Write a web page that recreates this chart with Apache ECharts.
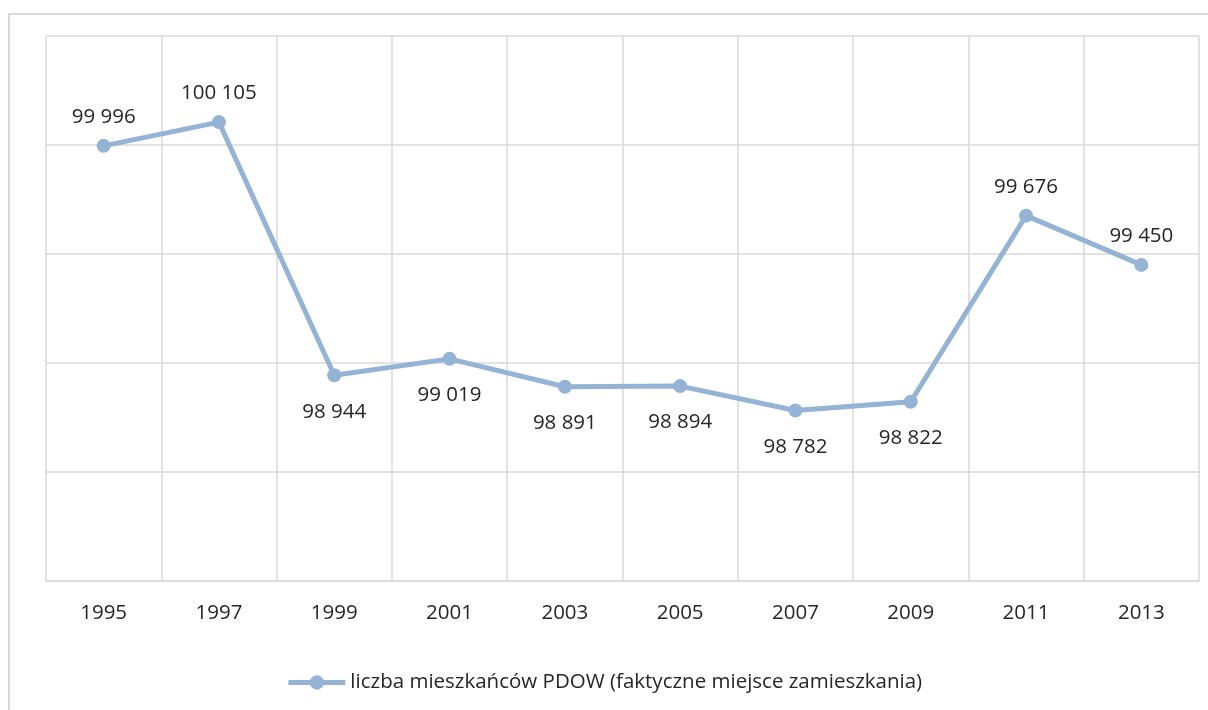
<!DOCTYPE html>
<html>
<head>
<meta charset="utf-8">
<script src="https://cdn.jsdelivr.net/npm/echarts@6/dist/echarts.min.js"></script>
<style>
  html, body { margin: 0; padding: 0; background: #fff; }
  #frame { position: absolute; left: 8px; top: 13px; width: 1220px; height: 720px; border: 2px solid #d9d9d9; box-sizing: border-box; }
  #main { position: absolute; left: 0; top: 0; width: 1208px; height: 710px; }
</style>
</head>
<body>
<div id="frame"></div>
<div id="main"></div>
<script>
// dane
var years = ['1995', '1997', '1999', '2001', '2003', '2005', '2007', '2009', '2011', '2013'];
var residents = [99996, 100105, 98944, 99019, 98891, 98894, 98782, 98822, 99676, 99450];
var seriesName = 'liczba mieszkańców PDOW (faktyczne miejsce zamieszkania)';

// etykiety nad punktem dla tych lat, reszta pod
var labelsAbove = ['1995', '1997', '2011', '2013'];

var font = '"Open Sans", "DejaVu Sans", sans-serif';
var textColor = '#262626';
var lineColor = '#95b4d5';

function fmt(v) {
    return String(v).replace(/\B(?=(\d{3})+(?!\d))/g, ' ');
}

var chart = echarts.init(document.getElementById('main'));

var points = residents.map(function (v, i) {
    var up = labelsAbove.indexOf(years[i]) >= 0;
    return {
        value: v,
        label: { position: up ? 'top' : 'bottom', distance: up ? 11 : 19 }
    };
});

var option = {
    animation: false,
    grid: { left: 46, right: 9, top: 36, bottom: 129 },
    legend: {
        bottom: 12,
        left: 'center',
        itemWidth: 57,
        itemHeight: 18,
        itemGap: 4,
        lineStyle: { width: 5, color: lineColor },
        itemStyle: { color: lineColor },
        textStyle: { fontFamily: font, fontSize: 20.5, color: textColor },
        data: [seriesName]
    },
    xAxis: {
        type: 'category',
        data: years,
        boundaryGap: true,
        axisLine: { show: true, lineStyle: { color: '#d9d9d9', width: 1.5 } },
        axisTick: { show: false },
        splitLine: { show: true, lineStyle: { color: '#d9d9d9', width: 1.5 } },
        axisLabel: { fontFamily: font, fontSize: 20.5, color: textColor, margin: 22 }
    },
    yAxis: {
        type: 'value',
        min: 98000,
        max: 100500,
        interval: 500,
        axisLine: { show: false },
        axisTick: { show: false },
        axisLabel: { show: false },
        splitLine: { lineStyle: { color: '#d9d9d9', width: 1.5 } }
    },
    series: [{
        name: seriesName,
        type: 'line',
        data: points,
        symbol: 'circle',
        symbolSize: 14,
        lineStyle: { color: lineColor, width: 5 },
        itemStyle: { color: lineColor },
        label: {
            show: true,
            fontFamily: font,
            fontSize: 20.5,
            color: textColor,
            formatter: function (p) { return fmt(p.value); }
        }
    }]
};

chart.setOption(option);
</script>
</body>
</html>
